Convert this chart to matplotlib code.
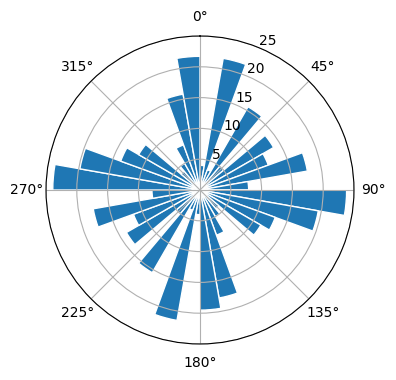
import numpy as np
import matplotlib
matplotlib.use("Agg")
import matplotlib.pyplot as plt

# direction bins (degrees, clockwise from north, left edge of each bin)
directions = list(range(0, 360, 10))
# bar lengths
values = [4.0, 21.7, 3.5, 15.6, 5.0, 13.8, 11.8, 17.7, 7.9,
          23.8, 19.5, 13.0, 11.4, 4.0, 5.0, 7.8, 17.8, 19.5,
          4.0, 21.5, 3.5, 15.5, 5.0, 13.8, 11.5, 17.6, 7.8,
          23.9, 19.8, 13.7, 11.5, 4.0, 5.0, 7.8, 15.8, 21.7]
r_ticks = [5, 10, 15, 20, 25]

fig = plt.figure(figsize=(3.96, 3.80), dpi=100)
ax = fig.add_axes([46/396, 36/380, 308/396, 308/380], projection='polar')
ax.set_theta_zero_location('N')
ax.set_theta_direction(-1)
theta = np.radians(directions)
ax.bar(theta, values, width=np.radians(10), align='edge',
       color='#1f77b4', edgecolor='white', linewidth=1)
ax.set_ylim(0, 25)
ax.set_yticks(r_ticks)
ax.set_rlabel_position(22.5)
ax.grid(True)
fig.savefig('out.png', dpi=100)
